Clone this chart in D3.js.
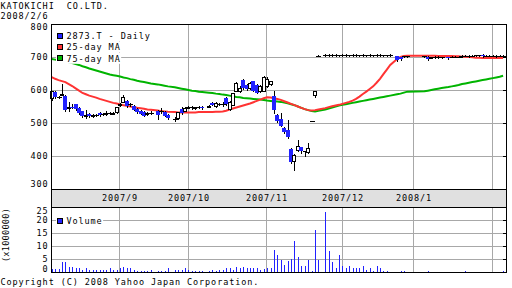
<!DOCTYPE html>
<html>
<head>
<meta charset="utf-8">
<title>KATOKICHI 2873.T</title>
<script src="https://cdn.jsdelivr.net/npm/d3@7"></script>
<style>
  body { margin: 0; background: #fff; }
  svg { display: block; }
  text { font-family: "DejaVu Sans Mono", monospace; font-size: 8.5px; letter-spacing: 0.9px; fill: #000; }
</style>
</head>
<body>
<div id="chart"></div>
<script>
// calendar: weekdays from first to last day, minus exchange holidays
var firstDay = "2007-08-06", lastDay = "2008-02-06";
var holidays = ["2007-09-17", "2007-09-24", "2007-10-08", "2007-11-23", "2007-12-24",
                "2007-12-31", "2008-01-01", "2008-01-02", "2008-01-03", "2008-01-14"];

// daily prices, one value per trading day (Aug, Sep, Oct, Nov, Dec, Jan, Feb)
var open = [
  575,594,578,587,581,547,549,557,546,535,522,528,520,524,530,527,528,530,530,532,
  556,565,568,557,552,542,535,534,529,531,537,535,533,525,512,515,542,537,
  549,547,546,548,547,552,561,551,557,558,576,543,556,598,598,630,616,606,626,616,596,598,
  612,619,583,525,512,485,480,421,384,419,426,414,411,507,586,704,705,706,705,706,705,
  705,706,705,705,706,705,706,705,705,706,705,706,705,705,706,703,699,702,702,
  702,700,699,700,700,700,700,701,701,701,703,704,703,704,705,705,707,704,704,
  704,703,704,704
];
var high = [
  598,596,582,619,584,563,558,559,548,537,540,530,527,527,532,530,536,533,533,549,
  562,585,570,560,554,544,538,536,533,535,539,545,535,527,517,534,548,548,
  553,552,550,552,551,556,563,565,560,563,578,567,592,624,612,634,618,623,628,618,615,643,
  638,628,596,528,530,487,510,424,405,447,428,416,439,507,598,707,708,709,708,708,707,
  708,709,707,708,709,707,708,707,708,707,708,709,707,707,708,704,701,704,703,
  704,702,701,702,702,701,701,703,703,703,705,706,705,707,707,707,708,706,706,
  706,705,706,705
];
var low = [
  570,576,575,584,535,537,544,540,527,519,514,518,518,521,521,524,525,527,527,530,
  552,563,550,553,538,530,526,520,525,528,512,530,520,513,505,513,527,535,
  546,543,541,544,542,548,554,548,554,553,555,540,554,596,595,604,600,604,596,590,594,596,
  608,616,531,503,490,470,456,380,358,415,410,399,408,507,580,702,703,704,704,704,703,
  703,704,704,703,704,704,704,704,703,704,703,704,704,704,704,688,690,700,700,
  700,691,697,698,698,698,694,699,699,699,701,702,701,702,703,703,701,702,702,
  702,701,702,703
];
var close = [
  596,579,578,588,540,550,548,542,530,521,524,520,525,524,523,527,529,530,531,547,
  557,580,552,557,540,532,528,522,530,531,525,535,522,515,512,532,529,546,
  550,547,547,548,546,553,556,562,557,558,557,565,590,620,606,607,602,620,598,592,612,638,
  634,626,538,505,492,472,458,381,402,430,414,414,424,507,596,704,705,706,705,706,705,
  705,706,705,705,706,705,706,705,705,706,705,706,705,705,706,690,693,702,702,
  702,693,700,700,700,700,696,701,701,701,703,704,703,704,705,705,702,704,704,
  704,703,704,704
];
// volume in millions of shares
var volume = [
  1.2,1.1,1.0,3.7,3.7,1.9,1.9,1.4,1.4,0.85,1.4,0.85,0.85,0.85,0.85,0.85,0.85,1.4,0.85,0.85,
  1.4,1.9,1.4,1.4,0.85,0.45,0.45,0.45,0.45,0.85,0.45,0.45,0.45,1.4,0.85,0.85,0.85,1.4,
  0.6,0.45,0.45,0.45,0.45,0.45,0.85,0.45,0.85,0.85,1.4,1.4,0.85,1.9,1.4,2.1,1.4,1.4,1.4,1.4,0.6,1.0,
  1.4,1.4,8.6,6.6,4.7,2.8,4.3,5.0,11.8,5.7,2.4,2.4,4.7,0.3,16.3,4.7,23.0,8.2,3.7,1.6,6.6,
  2.4,1.6,2.4,1.6,1.6,1.6,2.4,0.6,1.6,0.3,2.4,1.6,0.3,0.3,0.1,0.1,0.3,0.3,0.1,
  0.1,0.3,0.1,0.1,0.1,0.1,0.1,0.1,0.1,0.1,0.1,0.3,0.1,0.1,0.1,0.1,0.1,0.1,0.1,
  0.1,0.1,0.1,0.3
];
var ma25 = [
  639,634,630,627,624,618,612,605,598,591,587,583,580,577,573,570,567,564,561,559,
  556,554,552,550,548,546,545,543,541,540,538,536,535,534,533,532,532,532,
  532,532,532,533,533,533,533,534,534,535,537,541,544,547,550,553,556,559,563,567,571,575,
  578,577,575,573,570,566,562,558,554,550,546,542,539,538,539,541,545,548,551,553,555,
  558,561,564,568,573,580,588,595,603,611,622,634,648,662,676,694,700,703,704,
  704,704,704,704,703,703,703,703,702,702,701,701,700,699,698,698,697,697,697,
  697,697,697,697
];
var ma75 = [
  694,692,690,688,686,684,682,679,676,672,669,665,662,659,656,653,650,647,645,643,
  641,638,636,633,631,628,626,624,622,620,617,615,613,611,608,606,604,602,
  600,598,597,595,594,592,591,589,588,586,585,583,581,579,578,576,575,574,573,572,571,570,
  568,567,566,565,564,562,560,557,554,550,546,542,539,536,535,537,541,544,547,550,553,
  555,557,559,561,563,565,567,569,571,573,575,577,579,581,583,587,589,592,595,
  596,598,600,602,604,606,609,611,613,615,618,620,622,624,626,628,630,632,634,
  636,638,640,643
];

var priceTicks = [800, 700, 600, 500, 400, 300];
var volTicks = [25, 20, 15, 10, 5, 0];
var legendLabels = ["2873.T - Daily", "25-day MA", "75-day MA"];
var legendColors = ["#2222ff", "#ff3333", "#00b400"];

var BLUE = "#2222ff", GRID = "#a8a8a8", CH = 6.02;

var parse = d3.timeParse("%Y-%m-%d"), fmt = d3.timeFormat("%Y-%m-%d");
var allDays = d3.timeDay.range(parse(firstDay), d3.timeDay.offset(parse(lastDay), 1))
  .filter(function(d) { return d.getDay() != 0 && d.getDay() != 6; });
var tradeIdx = [];
allDays.forEach(function(d, i) { if (holidays.indexOf(fmt(d)) < 0) tradeIdx.push(i); });
var rows = tradeIdx.map(function(wi, k) {
  return { i: wi, o: open[k], h: high[k], l: low[k], c: close[k], v: volume[k], m25: ma25[k], m75: ma75[k] };
});
var months = [];
allDays.forEach(function(d, i) {
  if (i > 0 && d.getMonth() != allDays[i - 1].getMonth())
    months.push({ i: i, label: d3.timeFormat("%Y/%-m")(d) });
});

var L = 51, R = 506, T = 24, B = 189, VT = 207, VB = 272;
var x = d3.scaleLinear().domain([-0.2, 132.85]).range([L, R]);
var y = d3.scaleLinear().domain([300, 800]).range([B, T]);
var yv = d3.scaleLinear().domain([0, 25]).range([VB, VT]);
function gx(i) { return Math.round(x(i) - 0.7) + 0.5; }

var svg = d3.select("#chart").append("svg").attr("width", 512).attr("height", 288);
svg.append("rect").attr("width", 512).attr("height", 288).attr("fill", "#fff");

// header
svg.append("text").attr("x", 0.5).attr("y", 9).style("white-space", "pre").text("KATOKICHI  CO.LTD.");
svg.append("text").attr("x", 0.5).attr("y", 18.5).text("2008/2/6");

// grid
var grid = svg.append("g").attr("stroke", GRID).attr("shape-rendering", "crispEdges");
priceTicks.filter(function(v) { return v > 300 && v < 800; }).forEach(function(v) {
  grid.append("line").attr("x1", L).attr("x2", R).attr("y1", Math.round(y(v)) + 0.5).attr("y2", Math.round(y(v)) + 0.5);
});
volTicks.filter(function(v) { return v > 0 && v < 25; }).forEach(function(v) {
  grid.append("line").attr("x1", L).attr("x2", R).attr("y1", Math.round(yv(v)) + 0.5).attr("y2", Math.round(yv(v)) + 0.5);
});
months.forEach(function(m) {
  grid.append("line").attr("x1", gx(m.i)).attr("x2", gx(m.i)).attr("y1", T).attr("y2", B);
  grid.append("line").attr("x1", gx(m.i)).attr("x2", gx(m.i)).attr("y1", VT).attr("y2", VB);
});

// date band
svg.append("rect").attr("x", L + 0.5).attr("y", B + 0.5).attr("width", R - L).attr("height", VT - B)
  .attr("fill", "#e0e0e0").attr("stroke", "#000").attr("shape-rendering", "crispEdges");
months.forEach(function(m) {
  if (x(m.i) + 20 < R)
    svg.append("text").attr("x", gx(m.i) + 0.5).attr("y", 201.3).attr("text-anchor", "middle").text(m.label);
});

// moving averages
var ma = svg.append("g").attr("fill", "none").attr("stroke-width", 2);
ma.append("path").datum(rows).attr("stroke", legendColors[2])
  .attr("d", d3.line().x(function(d) { return x(d.i); }).y(function(d) { return y(d.m75); }));
ma.append("path").datum(rows).attr("stroke", legendColors[1])
  .attr("d", d3.line().x(function(d) { return x(d.i); }).y(function(d) { return y(d.m25); }));

// candles
var cg = svg.append("g").attr("shape-rendering", "crispEdges");
rows.forEach(function(d) {
  var xc = Math.round(x(d.i));
  var top = Math.round(y(Math.max(d.o, d.c))), bot = Math.round(y(Math.min(d.o, d.c)));
  if (d.h > d.l)
    cg.append("line").attr("x1", xc + 0.5).attr("x2", xc + 0.5)
      .attr("y1", Math.round(y(d.h))).attr("y2", Math.round(y(d.l)) + 1).attr("stroke", "#000");
  if (d.c > d.o) {
    cg.append("rect").attr("x", xc - 1.5).attr("y", top + 0.5).attr("width", 3).attr("height", Math.max(bot - top, 1))
      .attr("fill", "#fff").attr("stroke", "#000");
  } else if (d.c < d.o) {
    cg.append("rect").attr("x", xc - 2).attr("y", top).attr("width", 4).attr("height", Math.max(bot - top, 1))
      .attr("fill", BLUE);
  } else {
    cg.append("line").attr("x1", xc - 2).attr("x2", xc + 3).attr("y1", top + 0.5).attr("y2", top + 0.5).attr("stroke", "#000");
  }
});

// volume bars
svg.append("g").attr("shape-rendering", "crispEdges").selectAll("rect").data(rows).enter().append("rect")
  .attr("x", function(d) { return Math.round(x(d.i)); })
  .attr("y", function(d) { return yv(d.v); })
  .attr("width", 1)
  .attr("height", function(d) { return VB - yv(d.v); })
  .attr("fill", BLUE);

// frames and right-side ticks
var frame = svg.append("g").attr("fill", "none").attr("stroke", "#000").attr("shape-rendering", "crispEdges");
frame.append("rect").attr("x", L + 0.5).attr("y", T + 0.5).attr("width", R - L).attr("height", B - T);
frame.append("rect").attr("x", L + 0.5).attr("y", VT + 0.5).attr("width", R - L).attr("height", VB - VT);
priceTicks.forEach(function(v) {
  frame.append("line").attr("x1", R - 3).attr("x2", R).attr("y1", Math.round(y(v)) + 0.5).attr("y2", Math.round(y(v)) + 0.5);
});
volTicks.forEach(function(v) {
  frame.append("line").attr("x1", R - 3).attr("x2", R).attr("y1", Math.round(yv(v)) + 0.5).attr("y2", Math.round(yv(v)) + 0.5);
});

// axis labels
priceTicks.forEach(function(v) {
  svg.append("text").attr("x", 48.5).attr("y", Math.min(Math.max(y(v), 26.5), 184) + 3.2)
    .attr("text-anchor", "end").text(v);
});
volTicks.forEach(function(v) {
  svg.append("text").attr("x", 48.5).attr("y", Math.min(Math.max(yv(v), 210.5), 268.3) + 3.2)
    .attr("text-anchor", "end").text(v);
});
svg.append("text").attr("transform", "translate(8.5,235) rotate(-90)").attr("text-anchor", "middle")
  .style("font-size", "8.5px").style("letter-spacing", "0.3px").text("(x1000000)");

// legends
var lg = svg.append("g");
legendLabels.forEach(function(lab, k) {
  var cy = 35.5 + k * 11.4;
  lg.append("rect").attr("x", 56).attr("y", k == 0 ? 25 : cy - 5.5).attr("width", 11 + lab.length * CH)
    .attr("height", k == 0 ? cy + 5.5 - 25 : 11).attr("fill", "#fff");
  lg.append("rect").attr("x", 57.5).attr("y", cy - 2.5).attr("width", 5).attr("height", 5)
    .attr("fill", legendColors[k]).attr("stroke", "#000").attr("shape-rendering", "crispEdges");
  lg.append("text").attr("x", 66.5).attr("y", cy + 3.2).text(lab);
});
lg.append("rect").attr("x", 56).attr("y", 215).attr("width", 11 + 6 * CH).attr("height", 11).attr("fill", "#fff");
lg.append("rect").attr("x", 57.5).attr("y", 218).attr("width", 5).attr("height", 5)
  .attr("fill", BLUE).attr("stroke", "#000").attr("shape-rendering", "crispEdges");
lg.append("text").attr("x", 66.5).attr("y", 223.7).text("Volume");

svg.append("text").attr("x", 0.5).attr("y", 285).text("Copyright (C) 2008 Yahoo Japan Corporation.");
</script>
</body>
</html>
